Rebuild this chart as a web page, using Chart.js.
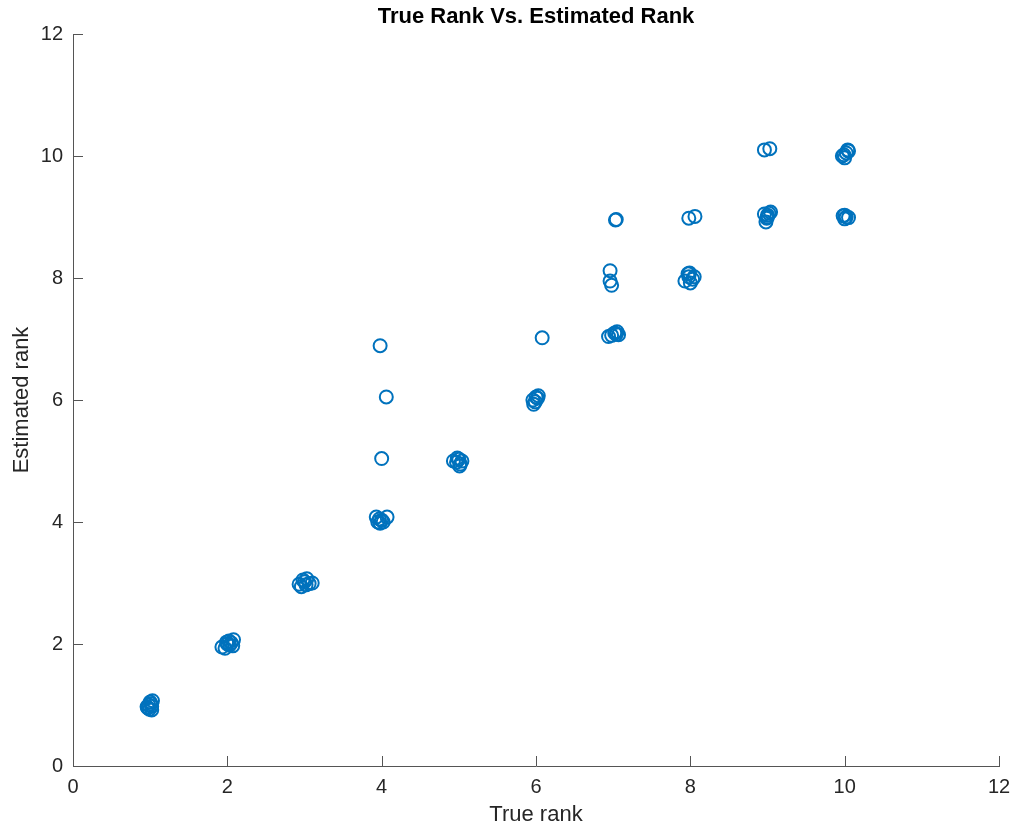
<!DOCTYPE html>
<html>
<head>
<meta charset="utf-8">
<script src="https://cdn.jsdelivr.net/npm/chart.js@4.4.1/dist/chart.umd.min.js"></script>
<style>
  html, body { margin: 0; padding: 0; background: #fff; }
  canvas { display: block; }
</style>
</head>
<body>
<canvas id="rankChart" width="1013" height="829"></canvas>
<script>
// true rank (x) and estimated rank (y)
const trueRank = [
  0.97, 0.98, 1.00, 1.02, 0.99, 1.01, 0.96, 1.02, 1.03,
  1.93, 1.97, 2.00, 2.02, 2.05, 2.08, 2.07, 1.99, 2.03,
  2.93, 2.96, 3.00, 3.03, 3.06, 3.10, 2.98, 3.02,
  3.95, 3.97, 4.00, 3.93, 4.07, 4.02, 3.98, 3.98, 4.06, 4.00,
  4.93, 4.97, 5.00, 5.02, 5.04, 4.98, 5.01,
  5.96, 5.97, 6.00, 6.03, 5.99, 6.02, 6.08,
  6.94, 6.98, 7.02, 7.05, 7.07, 7.04, 6.96, 6.96, 6.98, 7.03, 7.04,
  7.93, 7.97, 7.98, 8.00, 8.03, 8.05, 7.99, 7.98, 8.06,
  8.96, 8.98, 9.00, 9.02, 9.04, 9.00, 8.99, 8.96, 9.03,
  9.97, 10.00, 10.02, 10.04, 10.05, 9.99, 9.98, 10.00, 10.02, 10.05, 10.00
];
const estimatedRank = [
  0.95, 1.00, 1.05, 0.98, 0.93, 1.02, 0.97, 0.92, 1.07,
  1.95, 1.93, 2.00, 2.05, 2.02, 2.07, 1.97, 2.03, 1.98,
  2.98, 2.94, 3.02, 3.07, 2.99, 3.00, 3.05, 2.97,
  4.00, 4.05, 4.03, 4.08, 4.08, 4.00, 3.98, 6.89, 6.05, 5.04,
  5.00, 4.98, 5.03, 4.95, 5.00, 5.05, 4.92,
  6.00, 5.93, 6.05, 6.07, 5.97, 6.03, 7.02,
  7.04, 7.06, 7.10, 7.12, 7.07, 7.08, 8.12, 7.95, 7.88, 8.95, 8.96,
  7.95, 8.07, 8.02, 7.92, 7.98, 8.02, 8.08, 8.98, 9.01,
  9.05, 8.92, 9.00, 9.06, 9.08, 9.03, 8.98, 10.10, 10.12,
  10.00, 9.97, 10.05, 10.10, 10.08, 10.02, 9.02, 8.97, 9.00, 8.99, 9.03
];
const xTicks = [0, 2, 4, 6, 8, 10, 12];
const yTicks = [0, 2, 4, 6, 8, 10, 12];

const axisColor = "#262626";
const lineColor = "#555555";
const markerColor = "#0072BD";
const fontFamily = "'Liberation Sans', Arial, Helvetica, sans-serif";

const points = trueRank.map((x, i) => ({x: x, y: estimatedRank[i]}));

// inward tick marks + title centred over the plot, like matlab
const matlabBits = {
  id: "matlabBits",
  afterDraw(chart) {
    const ctx = chart.ctx;
    const area = chart.chartArea;
    const xs = chart.scales.x;
    const ys = chart.scales.y;
    ctx.save();
    ctx.strokeStyle = lineColor;
    ctx.lineWidth = 1;
    ctx.beginPath();
    xTicks.forEach(v => {
      const px = Math.round(xs.getPixelForValue(v)) + 0.5;
      ctx.moveTo(px, area.bottom);
      ctx.lineTo(px, area.bottom - 10);
    });
    yTicks.forEach(v => {
      const py = Math.round(ys.getPixelForValue(v)) + 0.5;
      ctx.moveTo(area.left, py);
      ctx.lineTo(area.left + 10, py);
    });
    ctx.stroke();
    ctx.fillStyle = "#000";
    ctx.font = "bold 22px " + fontFamily;
    ctx.textAlign = "center";
    ctx.textBaseline = "middle";
    ctx.fillText("True Rank Vs. Estimated Rank", (area.left + area.right) / 2, 17);
    ctx.restore();
  }
};

new Chart(document.getElementById("rankChart").getContext("2d"), {
  type: "scatter",
  data: {
    datasets: [{
      data: points,
      pointStyle: "circle",
      pointRadius: 6.5,
      pointHoverRadius: 6.5,
      borderWidth: 2,
      borderColor: markerColor,
      backgroundColor: "rgba(0,0,0,0)"
    }]
  },
  options: {
    responsive: false,
    animation: false,
    devicePixelRatio: 1,
    layout: {padding: {left: 0, top: 34, right: 14, bottom: 0}},
    plugins: {
      legend: {display: false},
      tooltip: {enabled: false},
      title: {display: false}
    },
    scales: {
      x: {
        type: "linear",
        min: 0,
        max: 12,
        afterBuildTicks: s => { s.ticks = xTicks.map(v => ({value: v})); },
        afterFit: s => { s.height = 63; s.paddingLeft = 0; s.paddingRight = 0; },
        grid: {display: false, drawOnChartArea: false, drawTicks: false, tickLength: 0},
        border: {display: true, color: lineColor, width: 1},
        ticks: {color: axisColor, padding: 9, font: {family: fontFamily, size: 20}},
        title: {display: true, text: "True rank", color: axisColor,
                font: {family: fontFamily, size: 22}, padding: {top: 0, bottom: 1}}
      },
      y: {
        type: "linear",
        min: 0,
        max: 12,
        afterBuildTicks: s => { s.ticks = yTicks.map(v => ({value: v})); },
        afterFit: s => { s.width = 73; s.paddingTop = 0; s.paddingBottom = 0; },
        grid: {display: false, drawOnChartArea: false, drawTicks: false, tickLength: 0},
        border: {display: true, color: lineColor, width: 1},
        ticks: {color: axisColor, padding: 10, font: {family: fontFamily, size: 20}},
        title: {display: true, text: "Estimated rank", color: axisColor,
                font: {family: fontFamily, size: 22}, padding: {top: 9, bottom: 0}}
      }
    }
  },
  plugins: [matlabBits]
});
</script>
</body>
</html>
